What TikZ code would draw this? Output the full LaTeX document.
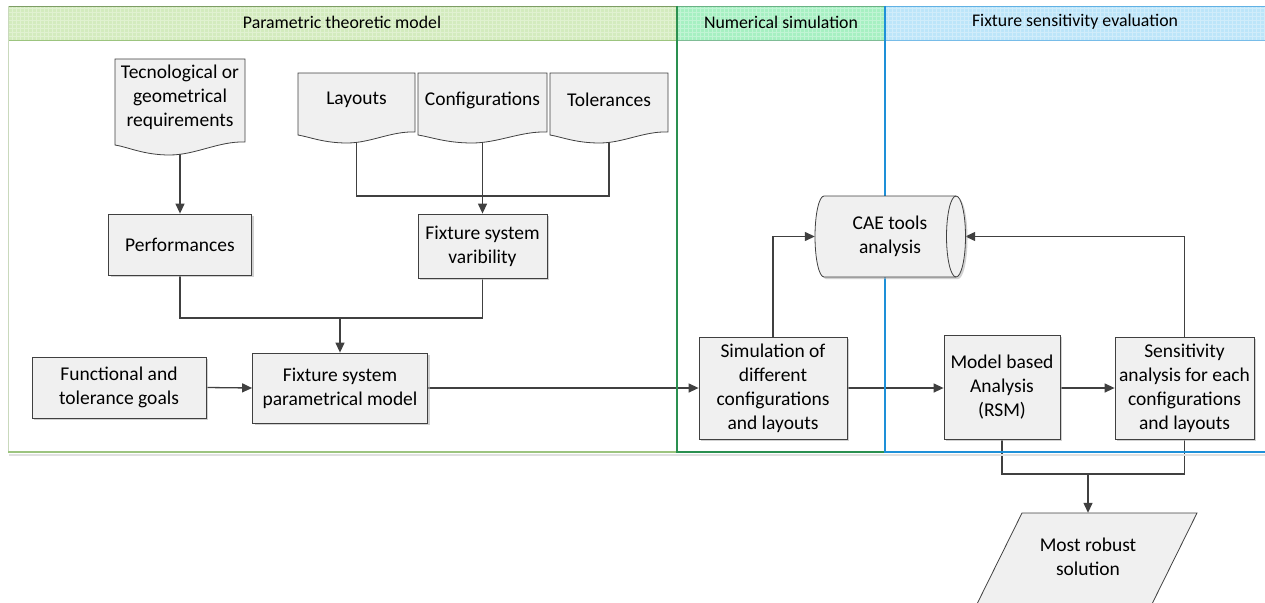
\documentclass[tikz,border=0pt]{standalone}
\usepackage{fontspec}
\setmainfont{Carlito}
\usetikzlibrary{arrows.meta,shadows,calc}
\pgfdeclarelayer{edges}
\pgfsetlayers{edges,main}
\definecolor{hone}{HTML}{D3EBBE}
\definecolor{htwo}{HTML}{A6F0C2}
\definecolor{hthree}{HTML}{BCE5F9}
\definecolor{bone}{HTML}{9CC47F}
\definecolor{bonel}{HTML}{C9D9BC}
\definecolor{btwo}{HTML}{2A9050}
\definecolor{bthree}{HTML}{1E90D8}
\definecolor{boxfill}{HTML}{F0F0F0}
\definecolor{ink}{HTML}{404040}
\tikzset{
  x=1pt, y=-1pt,
  boxline/.style={draw=ink, line width=0.8pt, fill=boxfill},
  procbox/.style={boxline, rectangle, align=center, inner sep=0pt,
    drop shadow={shadow xshift=2pt, shadow yshift=-2pt, fill=black!30, opacity=0.6}},
  txt/.style={align=center, inner sep=0pt},
  conn/.style={draw=ink, line width=1.3pt},
  arr/.style={conn, -{Triangle[length=10pt, width=9pt]}},
  lanehead/.style={inner sep=0pt, font=\fontsize{17.8}{20}\selectfont}
}
\newcommand\docshape[5]{%
  \path[boxline] (#1,#2) -- (#3,#2) -- (#3,{#4-3})
    .. controls ({#3-0.2*(#3-#1)},{#4-4}) and ({#1+0.62*(#3-#1)},{#4+#5}) .. ({#1+0.42*(#3-#1)},{#4+#5})
    .. controls ({#1+0.22*(#3-#1)},{#4+#5}) and ({#1+0.1*(#3-#1)},{#4+2}) .. (#1,#4) -- cycle;}
\begin{document}
\begin{tikzpicture}[font=\fontsize{19.5}{24}\selectfont]
\useasboundingbox (0,0) rectangle (1265,602);
\clip (0,0) rectangle (1265,602);
% lane headers
\fill[hone] (8,6) rectangle (677,40);
\fill[htwo] (677,6) rectangle (885,40);
\fill[hthree] (885,6) rectangle (1265,40);
\begin{scope}
  \clip (8,6) rectangle (1265,40);
  \draw[white, opacity=0.3, line width=0.5pt, step=4pt] (8,6) grid (1265,40);
\end{scope}
\draw[bone!80!black, line width=0.6pt] (8,6) -- (677,6);
\draw[btwo!70, line width=0.6pt] (677,6) -- (885,6);
\draw[bthree!70, line width=0.6pt] (885,6) -- (1265,6);
\draw[bone, line width=0.6pt] (8,40) -- (677,40);
\draw[btwo!60, line width=0.6pt] (677,40) -- (885,40);
\draw[bthree!60, line width=0.6pt] (885,40) -- (1265,40);
% lane borders
\draw[black!12, line width=2pt] (9,455) -- (1265,455);
\draw[bonel, line width=0.8pt] (8,6) -- (8,452);
\draw[bone, line width=2pt] (8,452) -- (677,452);
\draw[btwo, line width=1.1pt] (677,6) -- (677,452) -- (885,452);
\draw[bthree, line width=1.1pt] (885,6) -- (885,452) -- (1265,452);
\node[lanehead] (h1) at (342,22) {Parametric theoretic model};
\node[lanehead] (h2) at (781,22) {Numerical simulation};
\node[lanehead] (h3) at (1075,22) {Fixture sensitivity evaluation};
% document shapes
\docshape{115}{59}{245}{145}{10}
\node[txt] (tec) at (180,97.5) {Tecnological or\\geometrical\\requirements};
\docshape{298}{73}{415}{135}{8}
\node[txt] (lay) at (356.5,100) {Layouts};
\docshape{418}{73}{547}{135}{8}
\node[txt] (conf) at (482.5,100) {Configurations};
\docshape{550}{73}{668}{135}{8}
\node[txt] (tol) at (609,100) {Tolerances};
% process boxes
\node[procbox, minimum width=143pt, minimum height=61pt] (perf) at (180,244.5) {Performances};
\node[procbox, minimum width=129pt, minimum height=64pt] (fsv) at (482.5,246) {Fixture system\\varibility};
\node[procbox, minimum width=174pt, minimum height=61pt] (func) at (119,387.5) {Functional and\\tolerance goals};
\node[procbox, minimum width=175pt, minimum height=70pt] (fpm) at (340,388) {Fixture system\\parametrical model};
\node[procbox, minimum width=148pt, minimum height=102pt] (sim) at (773,388) {Simulation of\\different\\configurations\\and layouts};
\node[procbox, minimum width=116pt, minimum height=104pt] (mba) at (1002,387) {Model based\\Analysis\\(RSM)};
\node[procbox, minimum width=139pt, minimum height=102pt] (sens) at (1184.5,388) {Sensitivity\\analysis for each\\configurations\\and layouts};
% CAE storage shape
\path[boxline, drop shadow={shadow xshift=2pt, shadow yshift=-2pt, fill=black!30, opacity=0.6}]
  (824,196) -- (956,196) arc (-90:90:9.5 and 40.5) -- (824,277) arc (90:270:9 and 40.5) -- cycle;
\draw[ink, line width=0.8pt] (956,196) arc (270:90:9.5 and 40.5);
\node[txt, minimum width=150pt, minimum height=81pt] (cae) at (890,236.5) {CAE tools\\analysis};
% output parallelogram
\path[boxline] (1022,513) -- (1197,513) -- (1149,610) -- (974,610) -- cycle;
\node[txt, minimum height=88pt, minimum width=10pt] (mrs) at (1088,557) {Most robust\\solution};
% junctions
\coordinate (jA) at (482.5,196);
\coordinate (jB) at (340,318);
\coordinate (jC) at (1088,474);
% connectors
\begin{pgfonlayer}{edges}
\draw[arr] (tec.center) -- (perf.north);
\draw[conn] (lay.center) |- (jA) -| (tol.center);
\draw[arr] (conf.center) -- (fsv.north);
\draw[conn] (perf.south) |- (jB) -| (fsv.south);
\draw[arr] (jB) -- (fpm.north);
\draw[arr] (func.east) -- (fpm.west);
\draw[arr] (fpm.east) -- (sim.west |- fpm.east);
\draw[arr] (sim.east) -- (mba.west |- sim.east);
\draw[arr] (mba.east |- sens.west) -- (sens.west);
\draw[arr] (sim.north) |- (cae.west);
\draw[arr] (sens.north) |- (cae.east);
\draw[conn] (mba.south) |- (jC) -| (sens.south);
\draw[arr] (jC) -- (mrs.north);
\end{pgfonlayer}
\end{tikzpicture}
\end{document}
